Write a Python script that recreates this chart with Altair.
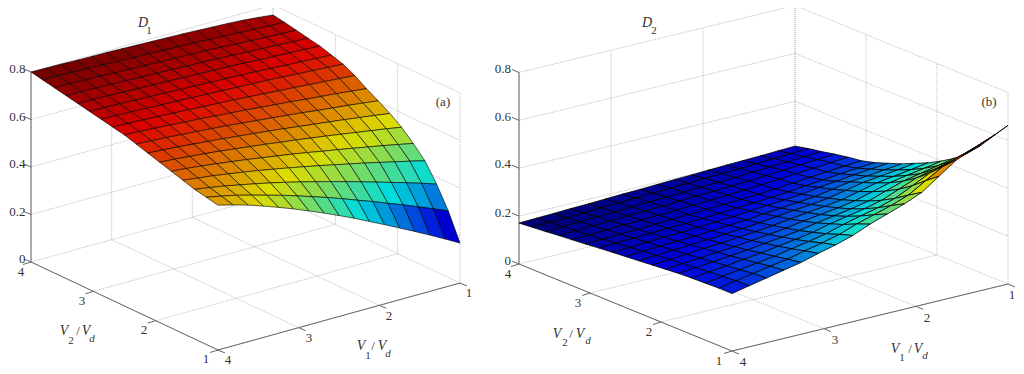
import altair as alt

# Hand-read surface heights: rows V2 = 4 -> 1, columns V1 = 4 -> 1
D1 = [
[.800,.799,.798,.796,.795,.794,.792,.790,.788,.786,.784,.781,.778,.775,.771,.765,.758],
[.790,.789,.787,.785,.782,.780,.778,.776,.773,.771,.769,.766,.762,.759,.756,.753,.750],
[.780,.779,.777,.775,.772,.770,.768,.766,.763,.761,.759,.756,.752,.749,.746,.743,.740],
[.770,.769,.767,.765,.762,.760,.758,.756,.753,.751,.749,.746,.742,.739,.736,.733,.730],
[.760,.759,.757,.755,.752,.750,.748,.746,.743,.741,.739,.736,.732,.729,.726,.723,.720],
[.750,.748,.746,.744,.741,.739,.736,.734,.731,.729,.726,.723,.719,.715,.712,.708,.705],
[.740,.738,.736,.733,.730,.728,.725,.722,.719,.716,.713,.710,.706,.702,.698,.694,.690],
[.730,.728,.725,.722,.718,.715,.711,.707,.703,.699,.694,.689,.685,.680,.675,.670,.665],
[.720,.717,.713,.709,.704,.700,.694,.689,.684,.678,.672,.666,.659,.653,.647,.640,.633],
[.705,.701,.697,.692,.687,.682,.676,.670,.663,.657,.650,.643,.635,.628,.621,.613,.605],
[.690,.686,.681,.675,.669,.663,.656,.649,.642,.634,.626,.618,.610,.602,.593,.584,.575],
[.675,.670,.664,.658,.651,.643,.635,.627,.618,.610,.600,.591,.581,.571,.561,.551,.540],
[.660,.654,.647,.639,.630,.621,.611,.601,.591,.580,.568,.557,.545,.533,.521,.508,.495],
[.645,.637,.629,.619,.609,.598,.586,.574,.561,.548,.534,.520,.506,.491,.476,.461,.445],
[.630,.620,.609,.596,.583,.569,.554,.538,.521,.504,.486,.468,.449,.430,.411,.391,.370],
[.620,.607,.593,.576,.558,.540,.520,.499,.478,.455,.431,.408,.383,.359,.333,.307,.280],
[.610,.593,.575,.553,.530,.506,.480,.453,.425,.396,.365,.334,.302,.270,.237,.203,.168],
]
D2 = [
[.171,.174,.176,.179,.181,.184,.187,.189,.192,.195,.197,.200,.203,.205,.207,.210,.2125],
[.176,.179,.181,.184,.187,.190,.193,.196,.199,.202,.205,.208,.211,.214,.218,.221,.225],
[.181,.184,.187,.190,.193,.196,.199,.202,.205,.208,.211,.214,.219,.223,.227,.231,.235],
[.187,.190,.193,.196,.199,.202,.205,.208,.212,.215,.219,.222,.227,.232,.237,.242,.247],
[.192,.195,.198,.201,.204,.207,.210,.214,.217,.221,.225,.229,.235,.241,.246,.252,.257],
[.197,.200,.203,.206,.209,.212,.215,.219,.222,.226,.230,.234,.241,.248,.254,.260,.265],
[.203,.206,.209,.212,.215,.218,.221,.225,.230,.234,.239,.245,.253,.260,.268,.274,.280],
[.208,.211,.215,.218,.221,.225,.229,.234,.241,.246,.252,.258,.269,.277,.286,.293,.300],
[.213,.217,.221,.224,.228,.233,.238,.243,.251,.257,.264,.271,.284,.297,.304,.312,.320],
[.218,.223,.227,.232,.236,.242,.247,.254,.263,.271,.278,.287,.302,.317,.326,.335,.345],
[.223,.228,.233,.239,.244,.251,.257,.265,.275,.284,.293,.303,.320,.338,.348,.359,.370],
[.228,.234,.240,.246,.252,.260,.268,.277,.289,.299,.309,.322,.342,.362,.375,.387,.400],
[.233,.240,.247,.254,.261,.271,.280,.290,.304,.316,.328,.343,.367,.391,.405,.420,.435],
[.236,.245,.253,.262,.271,.282,.293,.305,.323,.337,.351,.369,.398,.427,.444,.461,.480],
[.238,.249,.259,.270,.280,.294,.307,.322,.343,.361,.378,.400,.435,.470,.491,.512,.535],
[.240,.253,.266,.279,.291,.308,.324,.342,.368,.389,.410,.436,.479,.521,.547,.572,.600],
[.240,.255,.270,.285,.300,.320,.338,.360,.390,.415,.440,.470,.520,.570,.600,.630,.6625],
]
z_ticks = [0, 0.2, 0.4, 0.6, 0.8]
v_ticks = [1, 2, 3, 4]

# Floor corners of each box on the page (page pixels)
BOX_A = dict(ll=(31, 262), front=(218, 350), right=(460, 283), zpx=190 / 0.8)
BOX_B = dict(ll=(519, 264), front=(732, 351), right=(1008, 284), zpx=191.5 / 0.8)
MARGIN = 8


def project(box, v1, v2, z):
    """V1, V2, D -> chart pixel position, for the fixed view of each panel."""
    a = (4 - v1) / 3   # 0 at V1=4, 1 at V1=1
    b = (4 - v2) / 3   # 0 at V2=4, 1 at V2=1
    ll, fr, ri = box["ll"], box["front"], box["right"]
    x = ll[0] + b * (fr[0] - ll[0]) + a * (ri[0] - fr[0])
    y = ll[1] + b * (fr[1] - ll[1]) + a * (ri[1] - fr[1]) - z * box["zpx"]
    return [x - MARGIN, y - MARGIN]


def line_feature(pts):
    return {"type": "Feature", "properties": {},
            "geometry": {"type": "LineString", "coordinates": pts}}


def surface_features(box, table):
    n = len(table)
    zs = [v for r in table for v in r]
    lo, hi = min(zs), max(zs)
    step = 3 / (n - 1)
    out = []
    for j in range(n - 1):            # back to front
        for i in range(n - 2, -1, -1):
            corners = [(i, j), (i + 1, j), (i + 1, j + 1), (i, j + 1), (i, j)]
            ring = [project(box, 4 - c[0] * step, 4 - c[1] * step, table[c[1]][c[0]])
                    for c in corners]
            mean = sum(table[c[1]][c[0]] for c in corners[:4]) / 4
            out.append({"type": "Feature", "properties": {"t": (mean - lo) / (hi - lo)},
                        "geometry": {"type": "Polygon", "coordinates": [ring]}})
    return out


def grid_features(box):
    out = []
    for v in v_ticks:
        out.append(line_feature([project(box, v, 4, 0), project(box, v, 1, 0)]))
        out.append(line_feature([project(box, 4, v, 0), project(box, 1, v, 0)]))
        out.append(line_feature([project(box, v, 4, 0), project(box, v, 4, 0.8)]))
        out.append(line_feature([project(box, 1, v, 0), project(box, 1, v, 0.8)]))
    for z in z_ticks[1:]:
        out.append(line_feature([project(box, 4, 4, z), project(box, 1, 4, z)]))
        out.append(line_feature([project(box, 1, 4, z), project(box, 1, 1, z)]))
    return out


def axis_features(box):
    out = [line_feature([project(box, 4, 4, 0), project(box, 4, 1, 0)]),
           line_feature([project(box, 4, 1, 0), project(box, 1, 1, 0)]),
           line_feature([project(box, 4, 4, 0), project(box, 4, 4, 0.8)])]
    for z in z_ticks:
        p = project(box, 4, 4, z)
        out.append(line_feature([p, [p[0] - 7, p[1] - 3]]))
    for v in v_ticks:
        p = project(box, 4, v, 0)
        out.append(line_feature([p, [p[0] - 8, p[1] + 2.5]]))
        p = project(box, v, 1, 0)
        out.append(line_feature([p, [p[0] + 7, p[1] + 3]]))
    return out


tick_text = [
    ("0.8", 25.5, 69), ("0.6", 25.5, 117), ("0.4", 25.5, 164), ("0.2", 25.5, 212), ("0", 25.5, 259),
    ("4", 21, 272), ("3", 82, 301), ("2", 144, 330), ("1", 206, 359),
    ("4", 228, 360), ("3", 309, 338), ("2", 389, 316), ("1", 469, 293),
    ("0.8", 511, 69), ("0.6", 511, 117), ("0.4", 511, 164), ("0.2", 511, 213), ("0", 511, 261),
    ("4", 508, 274), ("3", 578, 303), ("2", 649, 332), ("1", 719, 361),
    ("4", 743, 362), ("3", 835, 340), ("2", 927, 318), ("1", 1012, 295),
]
plain_text = [("(a)", 443, 102), ("(b)", 989, 102), ("/", 78, 331), ("/", 373, 346),
              ("/", 571, 334), ("/", 910, 349)]
sub_text = [("2", 71, 341), ("1", 368, 356), ("2", 565, 343), ("1", 902, 358),
            ("1", 149, 31), ("2", 654, 31)]
italic_text = [("V", 64, 331), ("V", 86, 331), ("V", 361, 346), ("V", 382, 346),
               ("V", 557, 334), ("V", 580, 334), ("V", 895, 349), ("V", 918, 349),
               ("D", 143, 23), ("D", 647, 23)]
italic_sub = [("d", 92, 339), ("d", 388, 354), ("d", 588, 341), ("d", 925, 356)]

PROJ = dict(type="identity", scale=1, translate=[0, 0])
FONT = "Liberation Serif"
JET_D = [0, .125, .375, .625, .875, 1]
# jet, dimmed a little: the reference's much finer black mesh darkens its colours
JET_R = ["#00006c", "#0000dc", "#00dcdc", "#dcdc00", "#dc0000", "#6c0000"]


def lines(features, **kw):
    return alt.Chart(alt.Data(values=features)).mark_geoshape(filled=False, **kw).project(**PROJ)


def texts(rows, align="center", **kw):
    vals = [{"s": s, "x": x - MARGIN, "y": y - MARGIN} for s, x, y in rows]
    return alt.Chart(alt.Data(values=vals)).mark_text(
        font=FONT, align=align, baseline="middle", color="#333333", **kw
    ).encode(longitude="x:Q", latitude="y:Q", text="s:N").project(**PROJ)


def surface(box, table, width):
    return alt.Chart(alt.Data(values=surface_features(box, table))).mark_geoshape(
        stroke="#000000", strokeWidth=width
    ).encode(
        color=alt.Color("properties.t:Q", legend=None,
                        scale=alt.Scale(domain=JET_D, range=JET_R, interpolate="rgb"))
    ).project(**PROJ)


grid = lines(grid_features(BOX_A) + grid_features(BOX_B), stroke="#bdbdbd", strokeWidth=1, strokeDash=[1, 1])
axes = lines(axis_features(BOX_A) + axis_features(BOX_B), stroke="#666666", strokeWidth=1)

ticks_r = [r for r in tick_text if r[0].startswith("0")]
ticks_c = [r for r in tick_text if not r[0].startswith("0")]

chart = alt.layer(
    grid, axes, surface(BOX_A, D1, 0.6), surface(BOX_B, D2, 0.8),
    texts(ticks_r, align="right", fontSize=13),
    texts(ticks_c, fontSize=13),
    texts(plain_text, fontSize=13),
    texts(sub_text, fontSize=11),
    texts(italic_text, fontSize=14, fontStyle="italic"),
    texts(italic_sub, fontSize=11, fontStyle="italic"),
).properties(width=1008, height=366, padding=0, autosize=alt.AutoSizeParams(type="none")
).configure_view(stroke=None)

chart.save("out.html", embed_options={"renderer": "svg", "actions": False})
